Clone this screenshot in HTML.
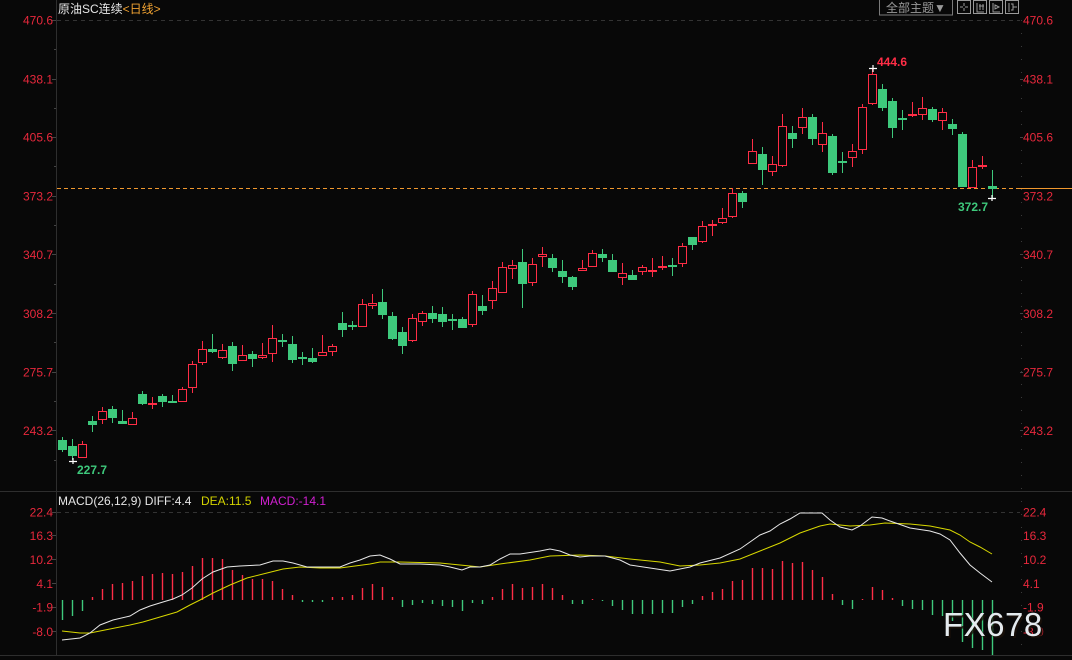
<!DOCTYPE html>
<html><head><meta charset="utf-8"><style>
html,body{margin:0;padding:0;background:#080808;}
svg{display:block;font-family:"Liberation Sans","Noto Sans CJK SC",sans-serif;}
.ax{fill:#e8283c;font-size:12px;}
.g line{stroke:#3ec97c;stroke-width:1}
.g rect{fill:#3ec97c}
.r line{stroke:#ff2d46;stroke-width:1}
.r rect{fill:#080808;stroke:#ff2d46;stroke-width:1}
.r rect.d{fill:#ff2d46;stroke:none}
.hg line{stroke:#3ec97c;stroke-width:1.4}
.hr line{stroke:#ff2d46;stroke-width:1.4}
</style></head><body>
<svg width="1072" height="660" viewBox="0 0 1072 660" xmlns="http://www.w3.org/2000/svg">
<rect width="1072" height="660" fill="#080808"/>
<!-- frame lines -->
<line x1="56.5" y1="0" x2="56.5" y2="655" stroke="#2e2e2e"/>
<line x1="0" y1="491.5" x2="1072" y2="491.5" stroke="#2e2e2e"/>
<line x1="0" y1="655.5" x2="1072" y2="655.5" stroke="#2e2e2e"/>
<line x1="1021.5" y1="20" x2="1021.5" y2="655" stroke="#3a3a3a" stroke-dasharray="1 12"/>
<line x1="57" y1="20.5" x2="1020" y2="20.5" stroke="#333" stroke-dasharray="4 4"/>
<line x1="57" y1="512.5" x2="1020" y2="512.5" stroke="#333" stroke-dasharray="4 4"/>
<!-- left ticks -->
<g stroke="#444">
<line x1="52" y1="20.5" x2="56" y2="20.5"/><line x1="54" y1="49.5" x2="56" y2="49.5"/>
<line x1="52" y1="79.5" x2="56" y2="79.5"/><line x1="54" y1="108.5" x2="56" y2="108.5"/>
<line x1="52" y1="137.5" x2="56" y2="137.5"/><line x1="54" y1="166.5" x2="56" y2="166.5"/>
<line x1="52" y1="196.5" x2="56" y2="196.5"/><line x1="54" y1="225.5" x2="56" y2="225.5"/>
<line x1="52" y1="254.5" x2="56" y2="254.5"/><line x1="54" y1="284.5" x2="56" y2="284.5"/>
<line x1="52" y1="313.5" x2="56" y2="313.5"/><line x1="54" y1="342.5" x2="56" y2="342.5"/>
<line x1="52" y1="372.5" x2="56" y2="372.5"/><line x1="54" y1="401.5" x2="56" y2="401.5"/>
<line x1="52" y1="430.5" x2="56" y2="430.5"/><line x1="54" y1="460.5" x2="56" y2="460.5"/>
<line x1="52" y1="512.5" x2="56" y2="512.5"/><line x1="52" y1="535.5" x2="56" y2="535.5"/>
<line x1="52" y1="559.5" x2="56" y2="559.5"/><line x1="52" y1="583.5" x2="56" y2="583.5"/>
<line x1="52" y1="607.5" x2="56" y2="607.5"/><line x1="52" y1="631.5" x2="56" y2="631.5"/>
<line x1="1020" y1="79.5" x2="1023" y2="79.5"/><line x1="1020" y1="137.5" x2="1023" y2="137.5"/>
<line x1="1020" y1="254.5" x2="1023" y2="254.5"/><line x1="1020" y1="313.5" x2="1023" y2="313.5"/>
<line x1="1020" y1="372.5" x2="1023" y2="372.5"/><line x1="1020" y1="430.5" x2="1023" y2="430.5"/>
</g>
<!-- header -->
<text x="58" y="13" font-size="12" fill="#e6e6e6">原油SC连续<tspan fill="#f0a232">&lt;日线&gt;</tspan></text>
<rect x="879.5" y="-1" width="73" height="16" fill="none" stroke="#7a7a7a"/>
<text x="886" y="12" font-size="12" fill="#9a9a9a">全部主题▼</text>
<g fill="none" stroke="#9a9a9a">
<rect x="957.5" y="0.5" width="13" height="13"/>
<rect x="973.5" y="0.5" width="13" height="13"/>
<rect x="989.5" y="0.5" width="13" height="13"/>
<rect x="1005.5" y="0.5" width="13" height="13"/>
<path d="M964 3v3M964 8v3M960 7h3M965 7h3"/>
<path d="M977 3v9h7M980 4v6M983 4v6M979 6h5"/>
<path d="M993 3v9h7M995 5l4 2-4 2z"/>
<path d="M1009 3v9M1011 4h2v6h-2M1013 7h4"/>
</g>
<!-- left axis labels -->
<g class="ax" text-anchor="end">
<text x="53" y="24.5">470.6</text><text x="53" y="83.5">438.1</text><text x="53" y="141.5">405.6</text>
<text x="53" y="200.5">373.2</text><text x="53" y="259">340.7</text><text x="53" y="318">308.2</text>
<text x="53" y="376.5">275.7</text><text x="53" y="435">243.2</text>
<text x="53" y="516.5">22.4</text><text x="53" y="540">16.3</text><text x="53" y="564">10.2</text>
<text x="53" y="588">4.1</text><text x="53" y="611.5">-1.9</text><text x="53" y="636">-8.0</text>
</g>
<g class="ax">
<text x="1023" y="24.5">470.6</text><text x="1023" y="83.5">438.1</text><text x="1023" y="141.5">405.6</text>
<text x="1023" y="200.5">373.2</text><text x="1023" y="259">340.7</text><text x="1023" y="318">308.2</text>
<text x="1023" y="376.5">275.7</text><text x="1023" y="435">243.2</text>
<text x="1023" y="516.5">22.4</text><text x="1023" y="540">16.3</text><text x="1023" y="564">10.2</text>
<text x="1023" y="588">4.1</text><text x="1023" y="611.5">-1.9</text><text x="1023" y="636">-8.0</text>
</g>
<!-- orange last price line -->
<line x1="57" y1="188.5" x2="1020" y2="188.5" stroke="#f0982e" stroke-dasharray="4 3"/>
<line x1="1020" y1="188.5" x2="1072" y2="188.5" stroke="#f0982e"/>
<!-- candles -->
<g class="g"><line x1="62.5" y1="437" x2="62.5" y2="452"/><rect x="58" y="440" width="9" height="10"/></g>
<g class="g"><line x1="72.5" y1="439" x2="72.5" y2="460"/><rect x="68" y="446" width="9" height="10"/></g>
<g class="r"><line x1="82.5" y1="441" x2="82.5" y2="458"/><rect x="78.5" y="444.5" width="8" height="13"/></g>
<g class="g"><line x1="92.5" y1="416" x2="92.5" y2="432"/><rect x="88" y="421" width="9" height="4"/></g>
<g class="r"><line x1="102.5" y1="407" x2="102.5" y2="424"/><rect x="98.5" y="411.5" width="8" height="8"/></g>
<g class="g"><line x1="112.5" y1="406" x2="112.5" y2="423"/><rect x="108" y="409" width="9" height="9"/></g>
<g class="g"><line x1="122.5" y1="410" x2="122.5" y2="424"/><rect x="118" y="421" width="9" height="3"/></g>
<g class="r"><line x1="132.5" y1="412" x2="132.5" y2="425"/><rect x="128.5" y="418.5" width="8" height="6"/></g>
<g class="g"><line x1="142.5" y1="391" x2="142.5" y2="405"/><rect x="138" y="394" width="9" height="10"/></g>
<g class="r"><line x1="152.5" y1="397" x2="152.5" y2="409"/><rect class="d" x="148" y="403" width="9" height="2"/></g>
<g class="g"><line x1="162.5" y1="394" x2="162.5" y2="407"/><rect x="158" y="396" width="9" height="6"/></g>
<g class="g"><line x1="172.5" y1="395" x2="172.5" y2="403"/><rect x="168" y="401" width="9" height="2"/></g>
<g class="r"><line x1="182.5" y1="387" x2="182.5" y2="402"/><rect x="178.5" y="389.5" width="8" height="12"/></g>
<g class="r"><line x1="192.5" y1="361" x2="192.5" y2="393"/><rect x="188.5" y="364.5" width="8" height="23"/></g>
<g class="r"><line x1="202.5" y1="341" x2="202.5" y2="365"/><rect x="198.5" y="349.5" width="8" height="13"/></g>
<g class="g"><line x1="212.5" y1="334" x2="212.5" y2="353"/><rect x="208" y="349" width="9" height="3"/></g>
<g class="r"><line x1="222.5" y1="344" x2="222.5" y2="359"/><rect x="218.5" y="350.5" width="8" height="7"/></g>
<g class="g"><line x1="232.5" y1="342" x2="232.5" y2="371"/><rect x="228" y="346" width="9" height="18"/></g>
<g class="r"><line x1="242.5" y1="345" x2="242.5" y2="361"/><rect x="238.5" y="355.5" width="8" height="5"/></g>
<g class="g"><line x1="252.5" y1="351" x2="252.5" y2="367"/><rect x="248" y="354" width="9" height="5"/></g>
<g class="r"><line x1="262.5" y1="343" x2="262.5" y2="359"/><rect x="258.5" y="355.5" width="8" height="2"/></g>
<g class="r"><line x1="272.5" y1="325" x2="272.5" y2="362"/><rect x="268.5" y="338.5" width="8" height="15"/></g>
<g class="g"><line x1="282.5" y1="334" x2="282.5" y2="347"/><rect x="278" y="340" width="9" height="2"/></g>
<g class="g"><line x1="292.5" y1="336" x2="292.5" y2="363"/><rect x="288" y="344" width="9" height="16"/></g>
<g class="g"><line x1="302.5" y1="352" x2="302.5" y2="365"/><rect x="298" y="357" width="9" height="2"/></g>
<g class="g"><line x1="312.5" y1="348" x2="312.5" y2="363"/><rect x="308" y="358" width="9" height="4"/></g>
<g class="r"><line x1="322.5" y1="335" x2="322.5" y2="356"/><rect x="318.5" y="352.5" width="8" height="3"/></g>
<g class="r"><line x1="332.5" y1="344" x2="332.5" y2="356"/><rect x="328.5" y="346.5" width="8" height="5"/></g>
<g class="g"><line x1="342.5" y1="312" x2="342.5" y2="337"/><rect x="338" y="323" width="9" height="7"/></g>
<g class="g"><line x1="352.5" y1="321" x2="352.5" y2="330"/><rect x="348" y="325" width="9" height="2"/></g>
<g class="r"><line x1="362.5" y1="299" x2="362.5" y2="327"/><rect x="358.5" y="304.5" width="8" height="22"/></g>
<g class="r"><line x1="372.5" y1="294" x2="372.5" y2="309"/><rect x="368.5" y="303.5" width="8" height="2"/></g>
<g class="g"><line x1="382.5" y1="289" x2="382.5" y2="319"/><rect x="378" y="302" width="9" height="13"/></g>
<g class="g"><line x1="392.5" y1="312" x2="392.5" y2="340"/><rect x="388" y="316" width="9" height="23"/></g>
<g class="g"><line x1="402.5" y1="327" x2="402.5" y2="354"/><rect x="398" y="332" width="9" height="14"/></g>
<g class="r"><line x1="412.5" y1="314" x2="412.5" y2="342"/><rect x="408.5" y="318.5" width="8" height="22"/></g>
<g class="r"><line x1="422.5" y1="311" x2="422.5" y2="326"/><rect x="418.5" y="313.5" width="8" height="8"/></g>
<g class="g"><line x1="432.5" y1="306" x2="432.5" y2="323"/><rect x="428" y="313" width="9" height="6"/></g>
<g class="g"><line x1="442.5" y1="307" x2="442.5" y2="327"/><rect x="438" y="314" width="9" height="8"/></g>
<g class="g"><line x1="452.5" y1="314" x2="452.5" y2="330"/><rect x="448" y="319" width="9" height="2"/></g>
<g class="g"><line x1="462.5" y1="317" x2="462.5" y2="328"/><rect x="458" y="319" width="9" height="9"/></g>
<g class="r"><line x1="472.5" y1="291" x2="472.5" y2="327"/><rect x="468.5" y="294.5" width="8" height="30"/></g>
<g class="g"><line x1="482.5" y1="295" x2="482.5" y2="315"/><rect x="478" y="306" width="9" height="5"/></g>
<g class="r"><line x1="492.5" y1="281" x2="492.5" y2="309"/><rect x="488.5" y="288.5" width="8" height="12"/></g>
<g class="r"><line x1="502.5" y1="262" x2="502.5" y2="293"/><rect x="498.5" y="267.5" width="8" height="25"/></g>
<g class="r"><line x1="512.5" y1="260" x2="512.5" y2="279"/><rect x="508.5" y="265.5" width="8" height="3"/></g>
<g class="g"><line x1="522.5" y1="249" x2="522.5" y2="308"/><rect x="518" y="262" width="9" height="22"/></g>
<g class="r"><line x1="532.5" y1="258" x2="532.5" y2="286"/><rect x="528.5" y="264.5" width="8" height="18"/></g>
<g class="r"><line x1="542.5" y1="247" x2="542.5" y2="267"/><rect x="538.5" y="254.5" width="8" height="2"/></g>
<g class="g"><line x1="552.5" y1="254" x2="552.5" y2="272"/><rect x="548" y="258" width="9" height="10"/></g>
<g class="g"><line x1="562.5" y1="260" x2="562.5" y2="283"/><rect x="558" y="271" width="9" height="6"/></g>
<g class="g"><line x1="572.5" y1="276" x2="572.5" y2="290"/><rect x="568" y="277" width="9" height="10"/></g>
<g class="r"><line x1="582.5" y1="260" x2="582.5" y2="271"/><rect x="578.5" y="268.5" width="8" height="2"/></g>
<g class="r"><line x1="592.5" y1="250" x2="592.5" y2="267"/><rect x="588.5" y="253.5" width="8" height="13"/></g>
<g class="g"><line x1="602.5" y1="249" x2="602.5" y2="262"/><rect x="598" y="254" width="9" height="4"/></g>
<g class="g"><line x1="612.5" y1="254" x2="612.5" y2="272"/><rect x="608" y="260" width="9" height="12"/></g>
<g class="r"><line x1="622.5" y1="263" x2="622.5" y2="285"/><rect x="618.5" y="273.5" width="8" height="4"/></g>
<g class="g"><line x1="632.5" y1="270" x2="632.5" y2="280"/><rect x="628" y="275" width="9" height="5"/></g>
<g class="r"><line x1="642.5" y1="265" x2="642.5" y2="275"/><rect x="638.5" y="267.5" width="8" height="4"/></g>
<g class="r"><line x1="652.5" y1="258" x2="652.5" y2="277"/><rect class="d" x="648" y="270" width="9" height="2"/></g>
<g class="r"><line x1="662.5" y1="256" x2="662.5" y2="270"/><rect class="d" x="658" y="266" width="9" height="2"/></g>
<g class="g"><line x1="672.5" y1="258" x2="672.5" y2="276"/><rect x="668" y="265" width="9" height="2"/></g>
<g class="r"><line x1="682.5" y1="243" x2="682.5" y2="267"/><rect x="678.5" y="246.5" width="8" height="17"/></g>
<g class="g"><line x1="692.5" y1="237" x2="692.5" y2="250"/><rect x="688" y="237" width="9" height="8"/></g>
<g class="r"><line x1="702.5" y1="221" x2="702.5" y2="243"/><rect x="698.5" y="226.5" width="8" height="15"/></g>
<g class="r"><line x1="712.5" y1="220" x2="712.5" y2="236"/><rect class="d" x="708" y="224" width="9" height="2"/></g>
<g class="r"><line x1="722.5" y1="208" x2="722.5" y2="224"/><rect x="718.5" y="218.5" width="8" height="4"/></g>
<g class="r"><line x1="732.5" y1="188" x2="732.5" y2="218"/><rect x="728.5" y="193.5" width="8" height="23"/></g>
<g class="g"><line x1="742.5" y1="191" x2="742.5" y2="208"/><rect x="738" y="193" width="9" height="9"/></g>
<g class="r"><line x1="752.5" y1="139" x2="752.5" y2="164"/><rect x="748.5" y="151.5" width="8" height="12"/></g>
<g class="g"><line x1="762.5" y1="147" x2="762.5" y2="185"/><rect x="758" y="154" width="9" height="16"/></g>
<g class="r"><line x1="772.5" y1="156" x2="772.5" y2="176"/><rect x="768.5" y="164.5" width="8" height="7"/></g>
<g class="r"><line x1="782.5" y1="114" x2="782.5" y2="167"/><rect x="778.5" y="126.5" width="8" height="39"/></g>
<g class="g"><line x1="792.5" y1="126" x2="792.5" y2="148"/><rect x="788" y="133" width="9" height="6"/></g>
<g class="r"><line x1="802.5" y1="108" x2="802.5" y2="134"/><rect x="798.5" y="117.5" width="8" height="10"/></g>
<g class="g"><line x1="812.5" y1="114" x2="812.5" y2="145"/><rect x="808" y="117" width="9" height="22"/></g>
<g class="r"><line x1="822.5" y1="122" x2="822.5" y2="152"/><rect x="818.5" y="133.5" width="8" height="11"/></g>
<g class="g"><line x1="832.5" y1="134" x2="832.5" y2="175"/><rect x="828" y="136" width="9" height="37"/></g>
<g class="g"><line x1="842.5" y1="152" x2="842.5" y2="173"/><rect x="838" y="161" width="9" height="2"/></g>
<g class="r"><line x1="852.5" y1="144" x2="852.5" y2="167"/><rect x="848.5" y="151.5" width="8" height="6"/></g>
<g class="r"><line x1="862.5" y1="104" x2="862.5" y2="154"/><rect x="858.5" y="107.5" width="8" height="42"/></g>
<g class="r"><line x1="872.5" y1="69" x2="872.5" y2="105"/><rect x="868.5" y="74.5" width="8" height="29"/></g>
<g class="g"><line x1="882.5" y1="84" x2="882.5" y2="111"/><rect x="878" y="89" width="9" height="19"/></g>
<g class="g"><line x1="892.5" y1="98" x2="892.5" y2="138"/><rect x="888" y="101" width="9" height="27"/></g>
<g class="g"><line x1="902.5" y1="110" x2="902.5" y2="130"/><rect x="898" y="118" width="9" height="2"/></g>
<g class="r"><line x1="912.5" y1="102" x2="912.5" y2="117"/><rect class="d" x="908" y="114" width="9" height="2"/></g>
<g class="r"><line x1="922.5" y1="97" x2="922.5" y2="120"/><rect x="918.5" y="108.5" width="8" height="6"/></g>
<g class="g"><line x1="932.5" y1="107" x2="932.5" y2="122"/><rect x="928" y="109" width="9" height="11"/></g>
<g class="r"><line x1="942.5" y1="108" x2="942.5" y2="130"/><rect x="938.5" y="112.5" width="8" height="8"/></g>
<g class="g"><line x1="952.5" y1="119" x2="952.5" y2="135"/><rect x="948" y="124" width="9" height="5"/></g>
<g class="g"><line x1="962.5" y1="132" x2="962.5" y2="187"/><rect x="958" y="134" width="9" height="53"/></g>
<g class="r"><line x1="972.5" y1="160" x2="972.5" y2="188"/><rect x="968.5" y="167.5" width="8" height="20"/></g>
<g class="r"><line x1="982.5" y1="156" x2="982.5" y2="169"/><rect class="d" x="978" y="165" width="9" height="2"/></g>
<g class="g"><line x1="992.5" y1="170" x2="992.5" y2="198"/><rect x="988" y="186" width="9" height="3"/></g>
<!-- markers -->
<g stroke="#ffffff" stroke-width="1.2">
<path d="M869 68.5h8M873 65v7"/>
<path d="M69 461.5h8M73 458v6"/>
<path d="M988 198.5h8M992 195v6"/>
</g>
<text x="877" y="66" font-size="12" font-weight="bold" fill="#ff2d46">444.6</text>
<text x="77" y="474" font-size="12" font-weight="bold" fill="#3ec97c">227.7</text>
<text x="958" y="211" font-size="12" font-weight="bold" fill="#3ec97c">372.7</text>
<!-- MACD header -->
<text x="58" y="505" font-size="12" fill="#e6e6e6">MACD(26,12,9) DIFF:4.4 <tspan x="201" fill="#d4d400">DEA:11.5</tspan><tspan x="260" fill="#d020d0">MACD:-14.1</tspan></text>
<!-- histogram -->
<g class="hg">
<line x1="62.5" y1="600" x2="62.5" y2="620"/><line x1="72.5" y1="600" x2="72.5" y2="616"/><line x1="82.5" y1="600" x2="82.5" y2="611"/>
<line x1="302.5" y1="600" x2="302.5" y2="602"/><line x1="312.5" y1="600" x2="312.5" y2="602"/><line x1="322.5" y1="600" x2="322.5" y2="602"/>
<line x1="402.5" y1="600" x2="402.5" y2="607"/><line x1="412.5" y1="600" x2="412.5" y2="605"/><line x1="422.5" y1="600" x2="422.5" y2="603"/>
<line x1="432.5" y1="600" x2="432.5" y2="604"/><line x1="442.5" y1="600" x2="442.5" y2="606"/><line x1="452.5" y1="600" x2="452.5" y2="607"/>
<line x1="462.5" y1="600" x2="462.5" y2="611"/><line x1="472.5" y1="600" x2="472.5" y2="603"/><line x1="482.5" y1="600" x2="482.5" y2="604"/>
<line x1="572.5" y1="600" x2="572.5" y2="604"/><line x1="582.5" y1="600" x2="582.5" y2="604"/><line x1="602.5" y1="600" x2="602.5" y2="601"/>
<line x1="612.5" y1="600" x2="612.5" y2="606"/><line x1="622.5" y1="600" x2="622.5" y2="610"/><line x1="632.5" y1="600" x2="632.5" y2="614"/>
<line x1="642.5" y1="600" x2="642.5" y2="614"/><line x1="652.5" y1="600" x2="652.5" y2="614"/><line x1="662.5" y1="600" x2="662.5" y2="613"/>
<line x1="672.5" y1="600" x2="672.5" y2="613"/><line x1="682.5" y1="600" x2="682.5" y2="607"/><line x1="692.5" y1="600" x2="692.5" y2="604"/>
<line x1="842.5" y1="600" x2="842.5" y2="605"/><line x1="852.5" y1="600" x2="852.5" y2="609"/>
<line x1="902.5" y1="600" x2="902.5" y2="606"/><line x1="912.5" y1="600" x2="912.5" y2="609"/><line x1="922.5" y1="600" x2="922.5" y2="610"/>
<line x1="932.5" y1="600" x2="932.5" y2="615"/><line x1="942.5" y1="600" x2="942.5" y2="616"/><line x1="952.5" y1="600" x2="952.5" y2="621"/>
<line x1="962.5" y1="600" x2="962.5" y2="642"/><line x1="972.5" y1="600" x2="972.5" y2="648"/><line x1="982.5" y1="600" x2="982.5" y2="650"/>
<line x1="992.5" y1="600" x2="992.5" y2="655"/>
</g>
<g class="hr">
<line x1="92.5" y1="600" x2="92.5" y2="597"/><line x1="102.5" y1="600" x2="102.5" y2="589"/><line x1="112.5" y1="600" x2="112.5" y2="584"/>
<line x1="122.5" y1="600" x2="122.5" y2="583"/><line x1="132.5" y1="600" x2="132.5" y2="581"/><line x1="142.5" y1="600" x2="142.5" y2="576"/>
<line x1="152.5" y1="600" x2="152.5" y2="574"/><line x1="162.5" y1="600" x2="162.5" y2="573"/><line x1="172.5" y1="600" x2="172.5" y2="574"/>
<line x1="182.5" y1="600" x2="182.5" y2="572"/><line x1="192.5" y1="600" x2="192.5" y2="566"/><line x1="202.5" y1="600" x2="202.5" y2="558"/>
<line x1="212.5" y1="600" x2="212.5" y2="558"/><line x1="222.5" y1="600" x2="222.5" y2="559"/><line x1="232.5" y1="600" x2="232.5" y2="570"/>
<line x1="242.5" y1="600" x2="242.5" y2="575"/><line x1="252.5" y1="600" x2="252.5" y2="579"/><line x1="262.5" y1="600" x2="262.5" y2="579"/>
<line x1="272.5" y1="600" x2="272.5" y2="581"/><line x1="282.5" y1="600" x2="282.5" y2="589"/><line x1="292.5" y1="600" x2="292.5" y2="595"/>
<line x1="332.5" y1="600" x2="332.5" y2="597"/><line x1="342.5" y1="600" x2="342.5" y2="597"/><line x1="352.5" y1="600" x2="352.5" y2="595"/>
<line x1="362.5" y1="600" x2="362.5" y2="588"/><line x1="372.5" y1="600" x2="372.5" y2="584"/><line x1="382.5" y1="600" x2="382.5" y2="587"/>
<line x1="392.5" y1="600" x2="392.5" y2="597"/>
<line x1="492.5" y1="600" x2="492.5" y2="597"/><line x1="502.5" y1="600" x2="502.5" y2="589"/><line x1="512.5" y1="600" x2="512.5" y2="584"/>
<line x1="522.5" y1="600" x2="522.5" y2="588"/><line x1="532.5" y1="600" x2="532.5" y2="587"/><line x1="542.5" y1="600" x2="542.5" y2="584"/>
<line x1="552.5" y1="600" x2="552.5" y2="588"/><line x1="562.5" y1="600" x2="562.5" y2="595"/><line x1="592.5" y1="600" x2="592.5" y2="599"/>
<line x1="702.5" y1="600" x2="702.5" y2="596"/><line x1="712.5" y1="600" x2="712.5" y2="592"/><line x1="722.5" y1="600" x2="722.5" y2="589"/>
<line x1="732.5" y1="600" x2="732.5" y2="581"/><line x1="742.5" y1="600" x2="742.5" y2="580"/><line x1="752.5" y1="600" x2="752.5" y2="568"/>
<line x1="762.5" y1="600" x2="762.5" y2="568"/><line x1="772.5" y1="600" x2="772.5" y2="569"/><line x1="782.5" y1="600" x2="782.5" y2="561"/>
<line x1="792.5" y1="600" x2="792.5" y2="563"/><line x1="802.5" y1="600" x2="802.5" y2="562"/><line x1="812.5" y1="600" x2="812.5" y2="570"/>
<line x1="822.5" y1="600" x2="822.5" y2="577"/><line x1="832.5" y1="600" x2="832.5" y2="594"/><line x1="862.5" y1="600" x2="862.5" y2="599"/>
<line x1="872.5" y1="600" x2="872.5" y2="587"/><line x1="882.5" y1="600" x2="882.5" y2="590"/><line x1="892.5" y1="600" x2="892.5" y2="598"/>
</g>
<!-- DEA -->
<polyline fill="none" stroke="#d8d800" stroke-width="1" points="62,631 80,633 90,633 110,629 130,625 143,622 160,617 177,612 190,605 200,600 213,593 230,585 247,578 267,573 283,569 300,567 320,568 340,568 370,564 380,562 400,562 440,563 460,565 480,567 500,564 530,560 550,556 580,555 605,556 630,559 660,562 680,566 700,565 720,563 740,559 760,551 780,543 800,533 820,526 830,524 850,526 870,525 885,523 910,524 930,526 950,530 960,535 970,542 980,547 992,554"/>
<!-- DIFF -->
<polyline fill="none" stroke="#e8e8e8" stroke-width="1" points="62,640 80,638 90,633 100,625 113,620 130,616 140,610 150,606 163,602 173,599 182,595 192,588 202,579 213,572 227,567 240,566 260,565 273,561 283,561 293,563 307,567 320,567 340,567 350,563 360,560 370,556 380,555 390,559 400,564 420,564 440,565 450,567 462,570 470,567 480,567 490,565 500,559 510,554 520,554 540,551 550,549 560,551 570,555 580,557 590,556 605,556 620,560 630,565 650,568 670,571 690,567 700,563 720,558 740,549 750,542 760,535 770,531 780,524 790,519 800,513 822,513 830,520 840,527 852,530 860,526 872,517 882,518 890,521 910,528 930,531 940,534 950,540 960,553 970,565 980,573 992,582"/>
<!-- watermark -->
<text x="945" y="638" font-size="33" letter-spacing="0.5" fill="#1a1008" opacity="0.8">FX678</text>
<text x="943" y="636" font-size="33" letter-spacing="0.5" fill="#e4eaee">FX678</text>
</svg>
</body></html>
